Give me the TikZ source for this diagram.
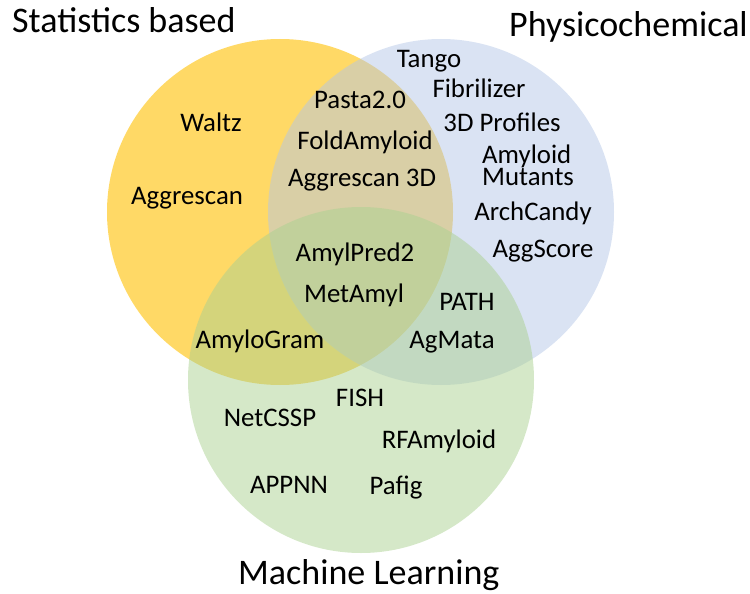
\documentclass[tikz,border=0pt]{standalone}
\usepackage{fontspec}
\setmainfont{Carlito}
\usepackage{tikz}
\definecolor{statcol}{RGB}{255,217,102}
\definecolor{physcol}{RGB}{181,199,231}
\definecolor{mlcol}{RGB}{171,209,145}
\tikzstyle{set} = [draw=none]
\tikzstyle{title} = [anchor=base west, inner sep=0pt, font=\fontsize{36}{40}\selectfont]
\tikzstyle{tool} = [anchor=base, inner sep=0pt, font=\fontsize{26.8}{22}\selectfont]

\begin{document}
\begin{tikzpicture}[x=1pt, y=-1pt]
    \useasboundingbox (0,0) rectangle (750,594);
    \fill [set, statcol] (280,212) circle [radius=173pt];
    \fill [set, physcol, fill opacity=0.5] (441,212) circle [radius=173pt];
    \fill [set, mlcol, fill opacity=0.5] (361,380) circle [radius=173pt];

    \node [title] at (12,33) (stat) {Statistics based};
    \node [title] at (509,37) (phys) {Physicochemical};
    \node [title] at (238,584) (ml) {Machine Learning};

    \node [tool] at (211,131) (waltz) {Waltz};
    \node [tool] at (187,204) (aggrescan) {Aggrescan};
    \node [tool] at (360,109) (pasta) {Pasta2.0};
    \node [tool] at (365,149) (fold) {FoldAmyloid};
    \node [tool] at (362,186) (agg3d) {Aggrescan 3D};
    \node [tool] at (429,68) (tango) {Tango};
    \node [tool] at (479,98) (fibril) {Fibrilizer};
    \node [tool] at (502,131) (prof3d) {3D Profiles};
    \node [tool, anchor=base west, align=left] at (482,185) (mutants) {Amyloid\\Mutants};
    \node [tool] at (533,220) (archcandy) {ArchCandy};
    \node [tool] at (543,257) (aggscore) {AggScore};
    \node [tool] at (355,261) (amylpred) {AmylPred2};
    \node [tool] at (354,302) (metamyl) {MetAmyl};
    \node [tool] at (467,310) (path) {PATH};
    \node [tool] at (260,348) (amylogram) {AmyloGram};
    \node [tool] at (452,348) (agmata) {AgMata};
    \node [tool] at (360,406) (fish) {FISH};
    \node [tool] at (270,426) (netcssp) {NetCSSP};
    \node [tool] at (439,448) (rfamyloid) {RFAmyloid};
    \node [tool] at (289,493) (appnn) {APPNN};
    \node [tool] at (396,494) (pafig) {Pafig};
\end{tikzpicture}
\end{document}
